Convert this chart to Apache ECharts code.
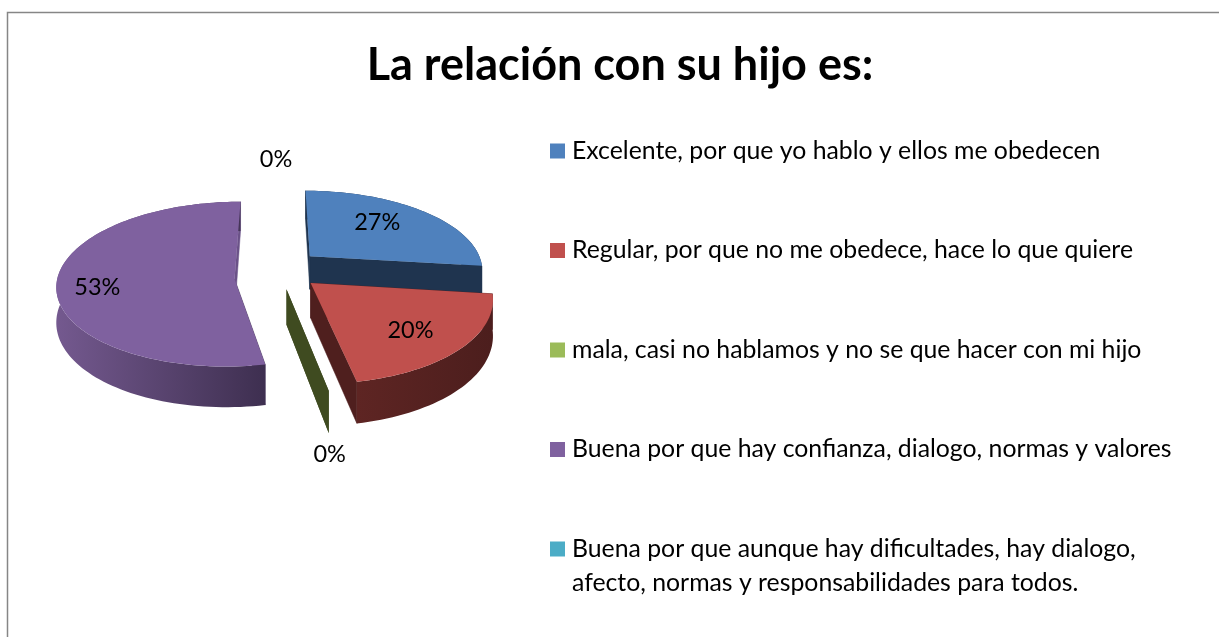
<!DOCTYPE html>
<html>
<head>
<meta charset="utf-8">
<style>html,body{margin:0;padding:0;background:#fff}#c{width:1219px;height:637px}</style>
<script src="https://cdn.jsdelivr.net/npm/echarts@6/dist/echarts.min.js"></script>
</head>
<body>
<div id="c"></div>
<script>
// ---- data ----
const titleText = 'La relación con su hijo es:';
const categories = [
  'Excelente, por que yo hablo y ellos me obedecen',
  'Regular, por que no me obedece, hace lo que quiere',
  'mala, casi no hablamos y no se que hacer con mi hijo',
  'Buena por que hay confianza, dialogo, normas y valores',
  'Buena por que aunque hay dificultades, hay dialogo, afecto, normas y responsabilidades para todos.'
];
const values = [27, 20, 0, 53, 0];

// ---- style ----
const topColors = ['#4f81bd', '#c0504d', '#9bbb59', '#7f619f', '#4bacc6'];
const wallColors = ['#1f344f', '#4f1f1e', '#3f4b20', '#3f2f52', '#1f4a56'];
const endWallColors = ['#1f344f', '#4f1f1e', '#3f4b20', '#6b5288', '#1f4a56'];
const rimFrom = ['#1f344f', '#5e2523', '#3f4b20', '#74598f', '#1f4a56'];
const rimTo = ['#1f344f', '#4c1e1d', '#3f4b20', '#3e2f50', '#1f4a56'];
const labelRadius = [0.65, 0.7, 1.4, 0.76, 1.55];
const labelNudge = [[-8, -3], [-2, 4], [-21, 11], [-3, 11], [-2, 2]];
const apexDrop = [0, 0, 0, 8, 0];
const FONT = 'Lato';
const cx = 278, cy = 269, R = 174, squash = 0.458, persp = 0.16, explode = 0.25, wallH = 34;

const total = values.reduce((a, b) => a + b, 0);
function project(X, Y) {
  const s = 1 / (1 - persp * Y);
  return { x: cx + R * X * s, y: cy + R * squash * Y * s, s };
}
function sliceAngles(i) {
  let before = 0;
  for (let k = 0; k < i; k++) before += values[k];
  return [before / total * 2 * Math.PI, (before + values[i]) / total * 2 * Math.PI];
}
function renderSlice(params, api) {
  const i = params.seriesIndex;
  const v = api.value(0);
  const [a0, a1] = sliceAngles(i);
  const mid = (a0 + a1) / 2;
  const ox = Math.sin(mid) * explode, oy = -Math.cos(mid) * explode;
  const rim = [], rimLow = [];
  const n = Math.max(2, Math.ceil((a1 - a0) / 0.03));
  for (let k = 0; k <= n; k++) {
    const a = a0 + (a1 - a0) * k / n;
    const p = project(ox + Math.sin(a), oy - Math.cos(a));
    rim.push([p.x, p.y]);
    rimLow.push([p.x, p.y + wallH * p.s]);
  }
  const ap = project(ox, oy);
  const apex = [ap.x, ap.y + apexDrop[i]];
  const apexLow = [ap.x, ap.y + apexDrop[i] + wallH * ap.s];
  const children = [];
  const wall = (p, pl, col) => ({
    type: 'polygon', silent: true,
    shape: { points: [apex, p, pl, apexLow] },
    style: { fill: col, stroke: col, lineWidth: v > 0 ? 0.5 : 0 }
  });
  // walls first; the top face hides whichever face the viewer cannot see
  children.push(wall(rim[0], rimLow[0], wallColors[i]));
  children.push(wall(rim[n], rimLow[n], endWallColors[i]));
  if (v > 0) {
    children.push({
      type: 'polygon', silent: true,
      shape: { points: rim.concat(rimLow.slice().reverse()) },
      style: {
        fill: new echarts.graphic.LinearGradient(0, 0, 1, 0, [
          { offset: 0, color: rimFrom[i] }, { offset: 1, color: rimTo[i] }
        ])
      }
    });
    children.push({
      type: 'polygon', silent: true,
      shape: { points: [apex].concat(rim) },
      style: { fill: topColors[i] }
    });
  }
  const r = labelRadius[i];
  const lp = project(ox + Math.sin(mid) * r, oy - Math.cos(mid) * r);
  children.push({
    type: 'text', silent: true, z2: 10,
    style: {
      x: lp.x + labelNudge[i][0], y: lp.y + labelNudge[i][1],
      text: Math.round(v / total * 100) + '%',
      fill: '#000', font: '23.5px ' + FONT, align: 'center', verticalAlign: 'middle'
    }
  });
  return { type: 'group', children };
}
const wrapAfter = 'hay dialogo, ';
const series = categories.map((name, i) => ({
  type: 'custom',
  name,
  coordinateSystem: 'none',
  renderItem: renderSlice,
  itemStyle: { color: topColors[i] },
  silent: true,
  animation: false,
  data: [[values[i]]]
}));
const legendBase = {
  orient: 'vertical', left: 550, height: 800, padding: 0,
  icon: 'rect', itemWidth: 15, itemHeight: 15, itemGap: 65.5,
  selectedMode: false,
  textStyle: { fontFamily: FONT, fontSize: 24.8, color: '#000', lineHeight: 34, padding: [0, 0, 0, 2] },
  itemStyle: { borderWidth: 0 },
  formatter: function (name) {
    const at = name.indexOf(wrapAfter);
    if (at < 0) return name;
    const cut = at + wrapAfter.length;
    return ' \n' + name.slice(0, cut).trim() + '\n' + name.slice(cut);
  }
};
const chart = echarts.init(document.getElementById('c'), null, { renderer: 'canvas' });
chart.setOption({
  animation: false,
  backgroundColor: '#fff',
  title: {
    text: titleText, left: 615, top: 30, textAlign: 'center',
    textStyle: { fontFamily: FONT, fontWeight: 'bold', fontSize: 45, color: '#000', lineHeight: 60 }
  },
  legend: [
    Object.assign({}, legendBase, { top: 134, data: categories.slice(0, 4) }),
    Object.assign({}, legendBase, { top: 498, data: categories.slice(4) })
  ],
  graphic: [{
    type: 'polyline', silent: true,
    shape: { points: [[7.5, 637], [7.5, 12.5], [1219, 12.5]] },
    style: { stroke: '#868686', lineWidth: 1.5, fill: null }
  }],
  series
});
</script>
</body>
</html>
